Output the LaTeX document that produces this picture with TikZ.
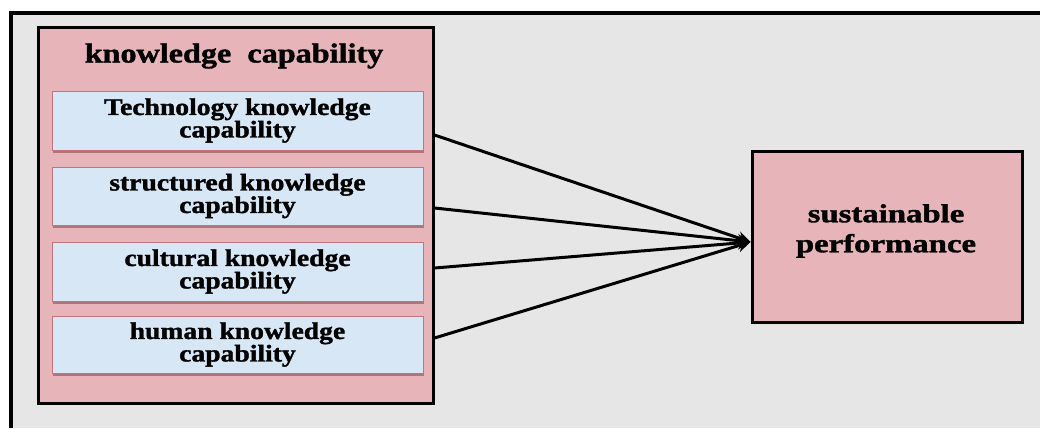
\documentclass[tikz,border=0pt]{standalone}
\usepackage{fontspec}
\setmainfont{Liberation Serif}[BoldFeatures={FakeBold=1.3}]
\usetikzlibrary{arrows.meta,shadows}

\definecolor{paper}{HTML}{E6E6E6}
\definecolor{rose}{HTML}{E6B4B9}
\definecolor{sky}{HTML}{D7E7F6}
\definecolor{skyedge}{HTML}{C2737C}

\tikzset{
  frameline/.style={line width=4pt},
  groupbox/.style={draw=black, line width=3pt, fill=rose, rectangle, inner sep=0pt},
  itembox/.style={draw=skyedge, line width=0.9pt, fill=sky, rectangle, inner sep=0pt,
    drop shadow={shadow xshift=1pt, shadow yshift=-2.5pt, opacity=0.35, fill=black!70!red}},
  itemtext/.style={align=center, xscale=1.15, inner sep=0pt,
    font=\fontsize{24}{22.5}\selectfont\bfseries},
  titletext/.style={xscale=1.17, inner sep=0pt, font=\fontsize{27.5}{28}\selectfont\bfseries},
  outtext/.style={align=center, xscale=1.26, inner sep=0pt,
    font=\fontsize{26}{30}\selectfont\bfseries},
  link/.style={line width=3pt, -{Stealth[length=13pt, width=13pt]}}
}

\begin{document}
\begin{tikzpicture}[x=1pt, y=-1pt]
  \useasboundingbox (0,0) rectangle (1040,428);
  % paper background and frame
  \fill[white] (0,0) rectangle (1040,428);
  \fill[paper] (10.5,13.5) rectangle (1040,428);
  \draw[frameline] (10.5,428) -- (10.5,13.5) -- (1040,13.5);

  % knowledge capability group
  \node[groupbox, minimum width=395pt, minimum height=375pt] (kc) at (235.5,215.5) {};
  \node[titletext] (kctitle) at (234,56) {knowledge\ \ capability};

  \node[itembox, minimum width=371pt, minimum height=59pt] (b1) at (237.5,120.5) {};
  \node[itembox, minimum width=371pt, minimum height=58pt] (b2) at (237.5,196) {};
  \node[itembox, minimum width=371pt, minimum height=59pt] (b3) at (237.5,271.5) {};
  \node[itembox, minimum width=371pt, minimum height=57pt] (b4) at (237.5,344.5) {};

  \node[itemtext] (t1) at (b1) {Technology knowledge\\capability};
  \node[itemtext] (t2) at (b2) {structured knowledge\\capability};
  \node[itemtext] (t3) at (b3) {cultural knowledge\\capability};
  \node[itemtext] (t4) at (b4) {human knowledge\\capability};

  % outcome
  \node[groupbox, minimum width=270pt, minimum height=171pt] (sp) at (887,236.5) {};
  \node[outtext] (sptext) at (886,231) {sustainable\\performance};

  % connectors
  \coordinate (s1) at (kc.east |- 0,135);
  \coordinate (s2) at (kc.east |- 0,208);
  \coordinate (s3) at (kc.east |- 0,268);
  \coordinate (s4) at (kc.east |- 0,338);
  \coordinate (tip) at (sp.west |- 0,242);
  \foreach \s in {s1,s2,s3,s4} \draw[link] (\s) -- (tip);
\end{tikzpicture}
\end{document}
